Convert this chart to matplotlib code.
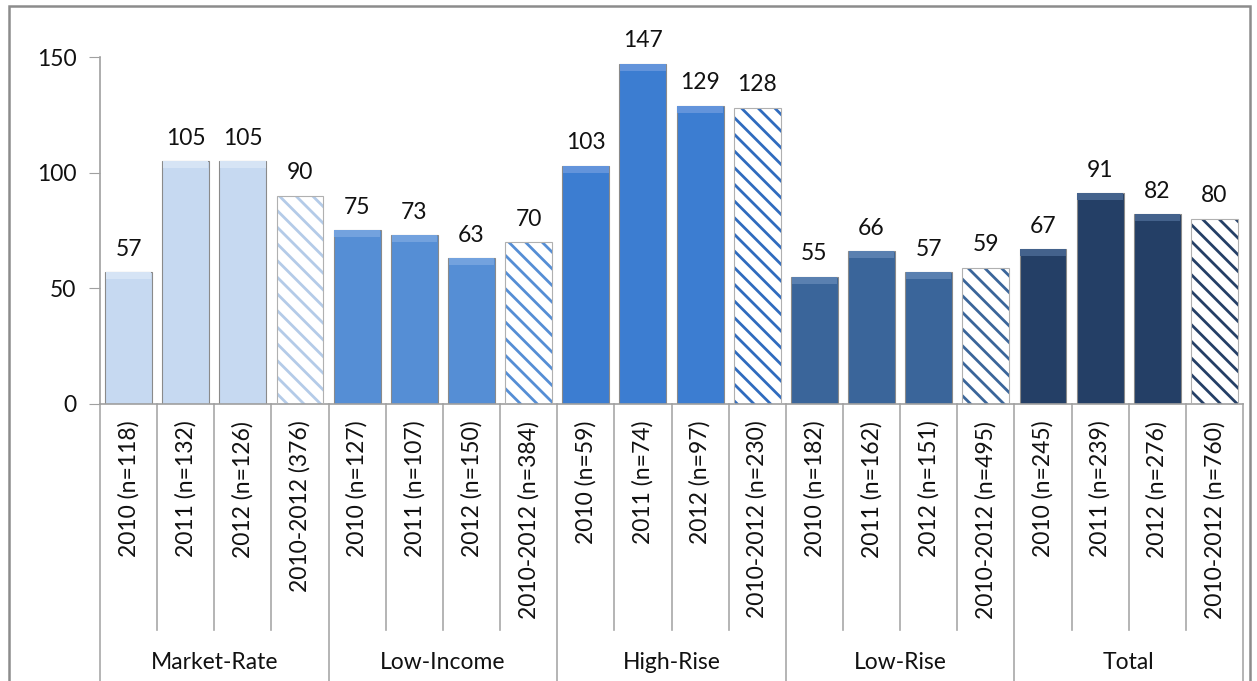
import matplotlib
matplotlib.use("Agg")
import matplotlib.pyplot as plt
import matplotlib.transforms as mtransforms
from matplotlib.patches import Rectangle
import numpy as np

plt.rcParams['font.family'] = ['Lato', 'DejaVu Sans']
plt.rcParams['hatch.linewidth'] = 2.0

groups = ["Market-Rate", "Low-Income", "High-Rise", "Low-Rise", "Total"]
labels = [
    "2010 (n=118)", "2011 (n=132)", "2012 (n=126)", "2010-2012 (376)",
    "2010 (n=127)", "2011 (n=107)", "2012 (n=150)", "2010-2012 (n=384)",
    "2010 (n=59)", "2011 (n=74)", "2012 (n=97)", "2010-2012 (n=230)",
    "2010 (n=182)", "2011 (n=162)", "2012 (n=151)", "2010-2012 (n=495)",
    "2010 (n=245)", "2011 (n=239)", "2012 (n=276)", "2010-2012 (n=760)",
]
values = [57, 105, 105, 90,
          75, 73, 63, 70,
          103, 147, 129, 128,
          55, 66, 57, 59,
          67, 91, 82, 80]
group_colors = ["#C6D9F1", "#558ED5", "#3C7DD1", "#3A659A", "#243F66"]
highlight_colors = ["#D6E4F5", "#73A2DE", "#6394DB", "#5A80B0", "#44628C"]
hatch_colors = ["#B4CBE8", "#558ED5", "#2F6BBE", "#3A659A", "#243F66"]

fig = plt.figure(figsize=(12.57, 6.81), dpi=100)
ax = fig.add_axes([100/1257, 1 - 404/681, 1143/1257, 347/681])

n_per = 4
x = np.arange(len(values))
width = 0.82
band = 3.0

for i, v in enumerate(values):
    g = i // n_per
    if i % n_per == 3:
        ax.bar(x[i], v, width=width, color="white", edgecolor=hatch_colors[g],
               hatch="\\\\", linewidth=0, zorder=2)
        ax.bar(x[i], v, width=width, fill=False, edgecolor="#B0B0B0",
               linewidth=0.8, zorder=3)
    else:
        ax.bar(x[i], v, width=width, color=group_colors[g], edgecolor="#8A8A8A",
               linewidth=0.8, zorder=2)
        ax.bar(x[i], band, bottom=v - band, width=width * 0.97,
               color=highlight_colors[g], linewidth=0, zorder=3)
    ax.annotate(str(v), xy=(x[i], v), xytext=(0, 9), textcoords="offset points",
                ha="center", va="bottom", fontsize=16.5, color="#111111")

ax.set_xlim(-0.5, len(values) - 0.5)
ax.set_ylim(0, 150)
ax.set_yticks([0, 50, 100, 150])
ax.tick_params(axis="y", labelsize=16.5, length=8, color="#A0A0A0",
               labelcolor="#111111", pad=9)
ax.set_xticks([])
for s in ["top", "right"]:
    ax.spines[s].set_visible(False)
ax.spines["left"].set_color("#A0A0A0")
ax.spines["bottom"].set_color("#A0A0A0")
ax.spines["left"].set_linewidth(1.2)
ax.spines["bottom"].set_linewidth(1.2)

trans = mtransforms.blended_transform_factory(ax.transData, ax.transAxes)

for i, lab in enumerate(labels):
    ax.annotate(lab, xy=(x[i], 0), xycoords=trans, xytext=(0, -12),
                textcoords="offset points", rotation=90, ha="center", va="top",
                fontsize=16.5, color="#111111", annotation_clip=False)

inner_bottom = (404 - 630) / 347
outer_bottom = (404 - 700) / 347
for b in range(len(values) + 1):
    xb = b - 0.5
    yb = outer_bottom if b % n_per == 0 else inner_bottom
    ax.plot([xb, xb], [0, yb], transform=trans, color="#A8A8A8", lw=1.2,
            clip_on=False, zorder=1)

for g, name in enumerate(groups):
    xc = g * n_per + (n_per - 1) / 2
    ax.text(xc, (404 - 663) / 347, name, transform=trans, ha="center",
            va="center", fontsize=16.5, color="#111111")

frame = Rectangle((9/1257, -0.05), (1250 - 9)/1257, 1 - 6/681 + 0.05,
                  transform=fig.transFigure, fill=False, edgecolor="#8C8C8C",
                  linewidth=1.8, clip_on=False)
fig.patches.append(frame)

fig.savefig("out.png", dpi=100)
